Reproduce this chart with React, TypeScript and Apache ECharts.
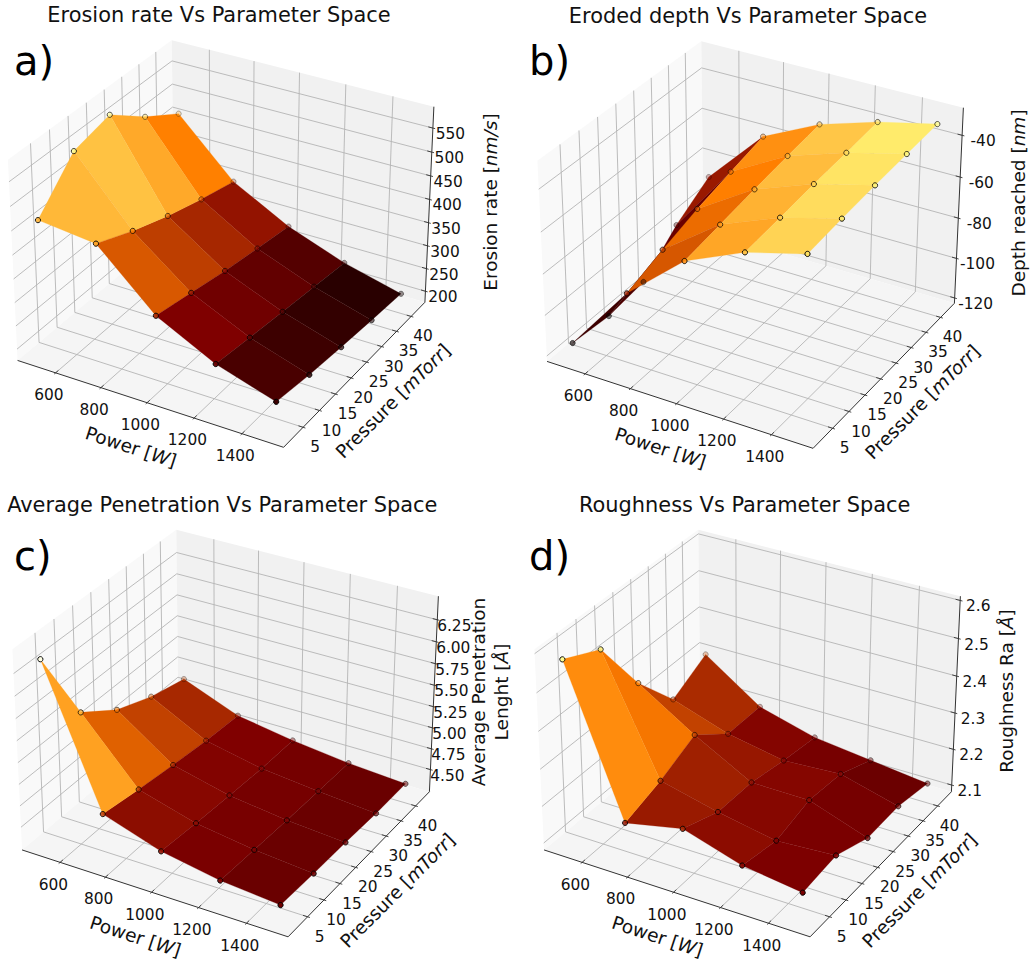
import React, { useEffect, useRef } from 'react';
import * as echarts from 'echarts';

// ---- data (rows: pressure, columns: power) ----
const POWER = [500, 750, 1000, 1250, 1500];
const PRESSURE = [2, 12, 22, 32, 42];
const POWER_TICKS = [600, 800, 1000, 1200, 1400];
const PRESSURE_TICKS = [5, 10, 15, 20, 25, 30, 35, 40];

const EROSION_RATE = [
  [465, 452, 340, 278, 239],
  [548, 417, 323, 266, 226],
  [567, 388, 306, 255, 217],
  [508, 364, 292, 245, 209],
  [460, 344, 279, 234, 202],
];
const ERODED_DEPTH = [
  [-115.4, -82.5, -58.9, -46.7, -39.2],
  [-117.1, -76.0, -56.0, -44.8, -37.3],
  [-114.6, -70.2, -53.0, -42.8, -35.7],
  [-99.9, -65.5, -50.3, -41.3, -34.4],
  [-89.0, -61.2, -47.9, -39.5, -33.2],
];
const PENETRATION = [
  [6.37, 4.82, 4.6, 4.48, 4.42],
  [5.45, 4.75, 4.56, 4.46, 4.4],
  [5.15, 4.69, 4.53, 4.44, 4.39],
  [4.98, 4.64, 4.5, 4.43, 4.37],
  [4.87, 4.61, 4.5, 4.42, 4.37],
];
const ROUGHNESS = [
  [2.577, 2.194, 2.227, 2.179, 2.158],
  [2.53, 2.225, 2.188, 2.159, 2.169],
  [2.367, 2.27, 2.186, 2.185, 2.13],
  [2.247, 2.195, 2.166, 2.175, 2.133],
  [2.299, 2.194, 2.152, 2.133, 2.114],
];
const RATE_TICKS = ['200', '250', '300', '350', '400', '450', '500', '550'];
const DEPTH_TICKS = ['-120', '-100', '-80', '-60', '-40'];
const PEN_TICKS = ['4.50', '4.75', '5.00', '5.25', '5.50', '5.75', '6.00', '6.25'];
const ROUGH_TICKS = ['2.1', '2.2', '2.3', '2.4', '2.5', '2.6'];

const FONT = 'DejaVu Sans';
const POWER_LIM = [429.2, 1570.8];
const PRESSURE_LIM = [-0.83, 44.83];

const PANELS = [
  { tag: 'a)', tagX: 14, tagY: 61, title: 'Erosion rate Vs Parameter Space', titleX: 219, titleY: 15, cx: 225, cy: 234, values: EROSION_RATE, zTicks: RATE_TICKS, zLim: [175.4, 594], norm: [185, 653], zdx: 17.5,
    stops: [[185, 0], [653, 1]],
    zLabel: 'Erosion rate [{i|nm/s}]', zLabelX: 490.5, zLabelY: 202 },
  { tag: 'b)', tagX: 529, tagY: 61, title: 'Eroded depth Vs Parameter Space', titleX: 748, titleY: 16, cx: 754.5, cy: 235, values: ERODED_DEPTH, zTicks: DEPTH_TICKS, zLim: [-122.7, -27], norm: [-118.3, -4], zdx: 21,
    stops: [[-97.75, 0.12], [-87.55, 0.21], [-78.9, 0.3], [-68.35, 0.42], [-37.1, 0.71]],
    zLabel: 'Depth reached [{i|nm}]', zLabelX: 1018, zLabelY: 203 },
  { tag: 'c)', tagX: 14, tagY: 556, title: 'Average Penetration Vs Parameter Space', titleX: 222.3, titleY: 505, cx: 229.5, cy: 723.5, values: PENETRATION, zTicks: PEN_TICKS, zLim: [4.231, 6.515], norm: [3.835, 6.51], zdx: 17,
    stops: [[4.3975, 0.208], [4.44, 0.208], [4.4625, 0.23], [4.525, 0.24], [4.5625, 0.25], [4.6825, 0.275], [4.865, 0.38], [5.01, 0.44], [5.3475, 0.565]],
    zLabel: 'Average Penetration\nLenght [{i|Å}]', zLabelX: 490, zLabelY: 692 },
  { tag: 'd)', tagX: 529, tagY: 556, title: 'Roughness Vs Parameter Space', titleX: 744.7, titleY: 505, cx: 751.5, cy: 723.5, values: ROUGHNESS, zTicks: ROUGH_TICKS, zLim: [2.081, 2.611], norm: [1.977, 2.747], zdx: 18,
    stops: [[1.977, 0], [2.747, 1]],
    zLabel: 'Roughness Ra [{i|Å}]', zLabelX: 1006.5, zLabelY: 691 },
];

// ---- matplotlib's default 3D view (elev 30, azim -60, dist 10) ----
const BOX = [1.1905, 1.1905, 0.8929];
const U = [0.866, 0.5, 0];
const V = [-0.25, 0.433, 0.866];
const W = [0.433, -0.75, 0.5];
const SCALE = 2560;
const VIEW_X = [-0.085, 0.1];
const VIEW_Y = [-0.09, 0.08];

const dot = (a: number[], b: number[]) => a[0] * b[0] + a[1] * b[1] + a[2] * b[2];
// fractions of the box -> view coordinates [x, y, distance]
function projectF(fx: number, fy: number, fz: number) {
  const p = [(fx - 0.5) * BOX[0], (fy - 0.5) * BOX[1], (fz - 0.5) * BOX[2]];
  const d = 10 - dot(W, p);
  return [dot(U, p) / d, dot(V, p) / d, d];
}
const frac = (v: number, lim: number[]) => (v - lim[0]) / (lim[1] - lim[0]);
const fP = (v: number) => frac(v, POWER_LIM);
const fQ = (v: number) => frac(v, PRESSURE_LIM);

function afmhot(x: number) {
  const c = (t: number) => Math.round(255 * Math.min(1, Math.max(0, t)));
  return [c(2 * x), c(2 * x - 0.5), c(2 * x - 1)];
}
const rgb = (c: number[], a = 1) => `rgba(${c[0]},${c[1]},${c[2]},${a})`;
function viaStops(v: number, stops: number[][]) {
  let k = 0;
  while (k < stops.length - 2 && v > stops[k + 1][0]) k++;
  const [a, fa] = stops[k], [b, fb] = stops[k + 1];
  return fa + ((v - a) / (b - a)) * (fb - fa);
}

function buildOption() {
  const grids: any[] = [];
  const xAxes: any[] = [];
  const yAxes: any[] = [];
  const titles: any[] = [];
  const graphics: any[] = [];
  const series: any[] = [];

  PANELS.forEach((P, n) => {
    grids.push({
      left: P.cx + VIEW_X[0] * SCALE,
      top: P.cy - VIEW_Y[1] * SCALE,
      width: (VIEW_X[1] - VIEW_X[0]) * SCALE,
      height: (VIEW_Y[1] - VIEW_Y[0]) * SCALE,
    });
    xAxes.push({ type: 'value', gridIndex: n, min: VIEW_X[0], max: VIEW_X[1], show: false });
    yAxes.push({ type: 'value', gridIndex: n, min: VIEW_Y[0], max: VIEW_Y[1], show: false });
    titles.push({
      text: P.title, left: P.titleX, top: P.titleY, padding: 0, textAlign: 'center', textVerticalAlign: 'middle',
      textStyle: { fontFamily: FONT, fontSize: 20.9, fontWeight: 'normal', color: '#111' },
    });
    graphics.push({
      type: 'text', x: P.tagX, y: P.tagY,
      style: { text: P.tag, fontFamily: FONT, fontSize: 40, fill: '#000', textVerticalAlign: 'middle', verticalAlign: 'middle' },
    });

    const base = { type: 'custom', coordinateSystem: 'cartesian2d', xAxisIndex: n, yAxisIndex: n, silent: true, clip: false };
    const fZ = (v: number) => frac(v, P.zLim);
    const pt = (api: any, fx: number, fy: number, fz: number) => {
      const q = projectF(fx, fy, fz);
      return api.coord([q[0], q[1]]);
    };

    // panes: left wall, back wall, floor
    const PANES = [
      { fill: '#f9f9f9', c: [[0, 0, 0], [0, 1, 0], [0, 1, 1], [0, 0, 1]] },
      { fill: '#f1f1f1', c: [[0, 1, 0], [1, 1, 0], [1, 1, 1], [0, 1, 1]] },
      { fill: '#f5f5f5', c: [[0, 0, 0], [1, 0, 0], [1, 1, 0], [0, 1, 0]] },
    ];
    series.push({
      ...base, z: 1, data: PANES.map((_, k) => [k, k]),
      renderItem: (_: any, api: any) => {
        const pane = PANES[api.value(0)];
        return { type: 'polygon', shape: { points: pane.c.map((c) => pt(api, c[0], c[1], c[2])) }, style: { fill: pane.fill } };
      },
    });

    // grid lines: [axis, value]
    const zVals = P.zTicks.map(Number);
    const gridData = [
      ...POWER_TICKS.map((v) => [0, v]),
      ...PRESSURE_TICKS.map((v) => [1, v]),
      ...zVals.map((v) => [2, v]),
    ];
    series.push({
      ...base, z: 2, data: gridData,
      renderItem: (_: any, api: any) => {
        const a = api.value(0), v = api.value(1);
        let c: number[][];
        if (a === 0) c = [[fP(v), 0, 0], [fP(v), 1, 0], [fP(v), 1, 1]];
        else if (a === 1) c = [[1, fQ(v), 0], [0, fQ(v), 0], [0, fQ(v), 1]];
        else c = [[0, 0, fZ(v)], [0, 1, fZ(v)], [1, 1, fZ(v)]];
        return {
          type: 'polyline', shape: { points: c.map((k) => pt(api, k[0], k[1], k[2])) },
          style: { stroke: '#b4b4b4', lineWidth: 0.9, fill: 'none' },
        };
      },
    });

    // axis lines
    const EDGES = [
      [[0, 0, 0], [1, 0, 0]],
      [[1, 0, 0], [1, 1, 0]],
      [[1, 1, 0], [1, 1, 1]],
    ];
    series.push({
      ...base, z: 3, data: EDGES.map((_, k) => [k, k]),
      renderItem: (_: any, api: any) => {
        const e = EDGES[api.value(0)];
        const a = pt(api, e[0][0], e[0][1], e[0][2]), b = pt(api, e[1][0], e[1][1], e[1][2]);
        return { type: 'line', shape: { x1: a[0], y1: a[1], x2: b[0], y2: b[1] }, style: { stroke: '#333', lineWidth: 1 } };
      },
    });

    // tick marks
    series.push({
      ...base, z: 3, data: gridData,
      renderItem: (_: any, api: any) => {
        const ax = api.value(0), v = api.value(1);
        let c: number[][];
        if (ax === 0) c = [[fP(v), -0.0083, 0], [fP(v), 0.0167, 0]];
        else if (ax === 1) c = [[1.0083, fQ(v), 0], [0.9833, fQ(v), 0]];
        else c = [[1.0083, 1, fZ(v)], [0.9833, 1, fZ(v)]];
        const a = pt(api, c[0][0], c[0][1], c[0][2]), b = pt(api, c[1][0], c[1][1], c[1][2]);
        return { type: 'line', shape: { x1: a[0], y1: a[1], x2: b[0], y2: b[1] }, style: { stroke: '#333', lineWidth: 0.9 } };
      },
    });

    // surface facets, painter's order
    const quads: number[][] = [];
    for (let j = 0; j < PRESSURE.length - 1; j++) {
      for (let i = 0; i < POWER.length - 1; i++) {
        const corners = [[i, j], [i + 1, j], [i + 1, j + 1], [i, j + 1]];
        const depth = corners.reduce((s, [a, b]) => s + projectF(fP(POWER[a]), fQ(PRESSURE[b]), fZ(P.values[b][a]))[2], 0);
        quads.push([i, j, depth]);
      }
    }
    quads.sort((a, b) => b[2] - a[2]);
    series.push({
      ...base, z: 4, data: quads,
      renderItem: (_: any, api: any) => {
        const i = api.value(0), j = api.value(1);
        const corners = [[i, j], [i + 1, j], [i + 1, j + 1], [i, j + 1]];
        const avg = corners.reduce((s, [a, b]) => s + P.values[b][a], 0) / 4;
        const col = rgb(afmhot(viaStops(avg, P.stops)));
        return {
          type: 'polygon',
          shape: { points: corners.map(([a, b]) => pt(api, fP(POWER[a]), fQ(PRESSURE[b]), fZ(P.values[b][a]))) },
          style: { fill: col, stroke: col, lineWidth: 0.25 },
        };
      },
    });

    // scatter markers with depth shading
    const cells: number[][] = [];
    P.values.forEach((row, j) => row.forEach((v, i) => cells.push([POWER[i], PRESSURE[j], v])));
    const dists = cells.map((c) => projectF(fP(c[0]), fQ(c[1]), fZ(c[2]))[2]);
    const dMin = Math.min(...dists), dMax = Math.max(...dists);
    series.push({
      ...base, z: 5, data: cells,
      renderItem: (_: any, api: any) => {
        const x = api.value(0), y = api.value(1), v = api.value(2);
        const q = projectF(fP(x), fQ(y), fZ(v));
        const c = api.coord([q[0], q[1]]);
        const alpha = 1 - 0.7 * (q[2] - dMin) / (dMax - dMin);
        return {
          type: 'circle', shape: { cx: c[0], cy: c[1], r: 2.6 },
          style: { fill: rgb(afmhot(frac(v, P.norm)), alpha), stroke: `rgba(0,0,0,${alpha})`, lineWidth: 1 },
        };
      },
    });

    // tick labels
    const labelData = gridData.map((g, k) => [g[0], g[1], k]);
    series.push({
      ...base, z: 6, data: labelData,
      renderItem: (_: any, api: any) => {
        const ax = api.value(0), v = api.value(1);
        let c: number[], dx: number, dy: number, text: string;
        if (ax === 0) { c = pt(api, fP(v), 0, 0); dx = -6.7; dy = 22.3; text = String(v); }
        else if (ax === 1) { c = pt(api, 1, fQ(v), 0); dx = 12; dy = 20; text = String(v); }
        else { c = pt(api, 1, 1, fZ(v)); dx = P.zdx; dy = 6; text = P.zTicks[zVals.indexOf(v)]; }
        return {
          type: 'text', x: c[0] + dx, y: c[1] + dy,
          style: { text, fontFamily: FONT, fontSize: 15.4, fill: '#111', align: 'center', verticalAlign: 'middle' },
        };
      },
    });

    // axis titles
    const italic = { i: { fontFamily: FONT, fontSize: 18.5, fontStyle: 'italic', fill: '#111' } };
    const AXIS_TITLES = [
      { text: 'Power [{i|W}]', rot: -18, x: P.cx - 94, y: P.cy + 213, size: 18.5 },
      { text: 'Pressure [{i|mTorr}]', rot: 45, x: P.cx + 168, y: P.cy + 167, size: 18.5 },
      { text: P.zLabel, rot: 90, x: P.zLabelX, y: P.zLabelY, size: 18.5 },
    ];
    series.push({
      ...base, z: 6, data: AXIS_TITLES.map((_, k) => [k, k]),
      renderItem: (_: any, api: any) => {
        const t = AXIS_TITLES[api.value(0)];
        return {
          type: 'text', x: t.x, y: t.y, rotation: (t.rot * Math.PI) / 180, originX: 0, originY: 0,
          style: {
            text: t.text, rich: italic, fontFamily: FONT, fontSize: t.size, fill: '#111', align: 'center', verticalAlign: 'middle', lineHeight: 23,
          },
        };
      },
    });
  });

  return { animation: false, backgroundColor: '#fff', title: titles, grid: grids, xAxis: xAxes, yAxis: yAxes, graphic: graphics, series };
}

export default function App() {
  const ref = useRef<HTMLDivElement>(null);
  useEffect(() => {
    const chart = echarts.init(ref.current!, null, { renderer: 'svg' });
    chart.setOption(buildOption() as any);
    return () => chart.dispose();
  }, []);
  return <div ref={ref} style={{ position: 'absolute', left: 0, top: 0, width: 1032, height: 960 }} />;
}
